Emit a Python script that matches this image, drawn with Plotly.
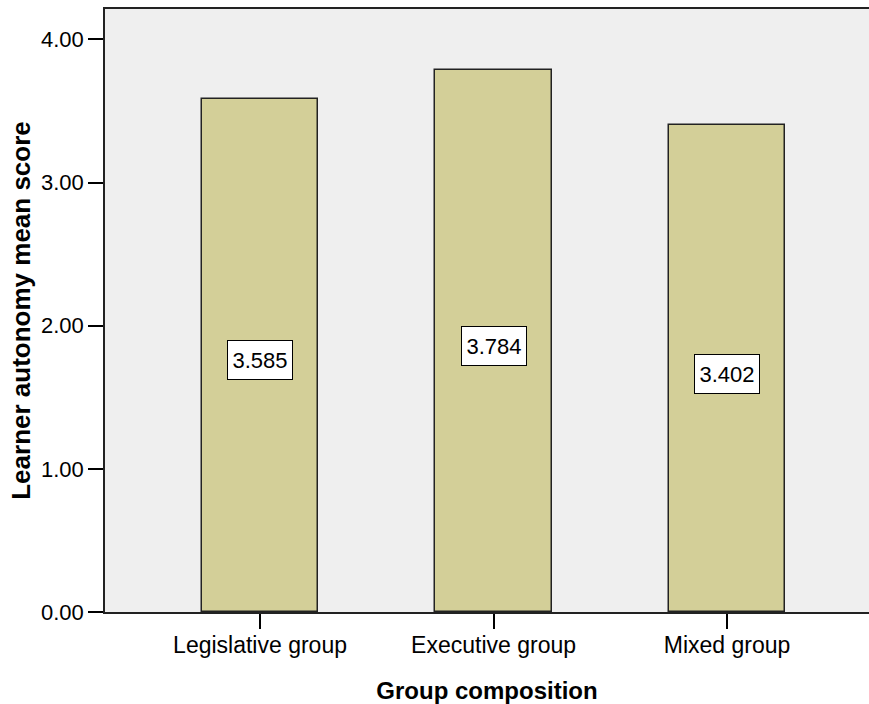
import plotly.graph_objects as go

# Mean learner autonomy score by group composition
groups = ["Legislative group", "Executive group", "Mixed group"]
mean_scores = [3.585, 3.784, 3.402]
y_tick_values = [0, 1, 2, 3, 4]
y_tick_labels = ["0.00", "1.00", "2.00", "3.00", "4.00"]

positions = list(range(len(groups)))
font_family = "Liberation Sans, Arial, sans-serif"

fig = go.Figure()
fig.add_trace(go.Bar(
    x=positions,
    y=mean_scores,
    width=0.5,
    marker=dict(color="#D3CF98", line=dict(color="#222222", width=1.5)),
    hoverinfo="skip",
))

# Boxed value labels at the middle of each bar
for pos, val in zip(positions, mean_scores):
    fig.add_annotation(
        x=pos, y=val / 2, text=f"{val:.3f}", showarrow=False,
        yshift=-5, width=58, height=32,
        font=dict(family=font_family, size=22, color="#000000"),
        bgcolor="#FFFFFF", bordercolor="#000000", borderwidth=1, borderpad=3,
    )

fig.update_layout(
    width=869, height=704,
    margin=dict(l=105, r=0, t=9, b=92),
    paper_bgcolor="#FFFFFF",
    plot_bgcolor="#EFEFEF",
    showlegend=False,
    font=dict(family=font_family, size=22, color="#000000"),
    bargap=0,
)

fig.update_xaxes(
    range=[-0.664, 2.608],
    tickmode="array", tickvals=positions, ticktext=groups,
    ticks="outside", ticklen=15, tickwidth=1.5, tickcolor="#000000",
    showline=True, linecolor="#222222", linewidth=1.5, mirror=True,
    showgrid=False, zeroline=False,
    tickfont=dict(size=23), ticklabelstandoff=-3,
    title=dict(text="<b>Group composition</b>", font=dict(size=24), standoff=25),
)

fig.update_yaxes(
    range=[0, 4.213],
    tickmode="array", tickvals=y_tick_values, ticktext=y_tick_labels,
    ticks="outside", ticklen=15, tickwidth=1.5, tickcolor="#000000",
    showline=True, linecolor="#222222", linewidth=1.5,
    showgrid=False, zeroline=False,
    tickfont=dict(size=22),
    title=dict(text="<b>Learner autonomy mean score</b>", font=dict(size=26), standoff=3),
)

fig.write_html("out.html")
